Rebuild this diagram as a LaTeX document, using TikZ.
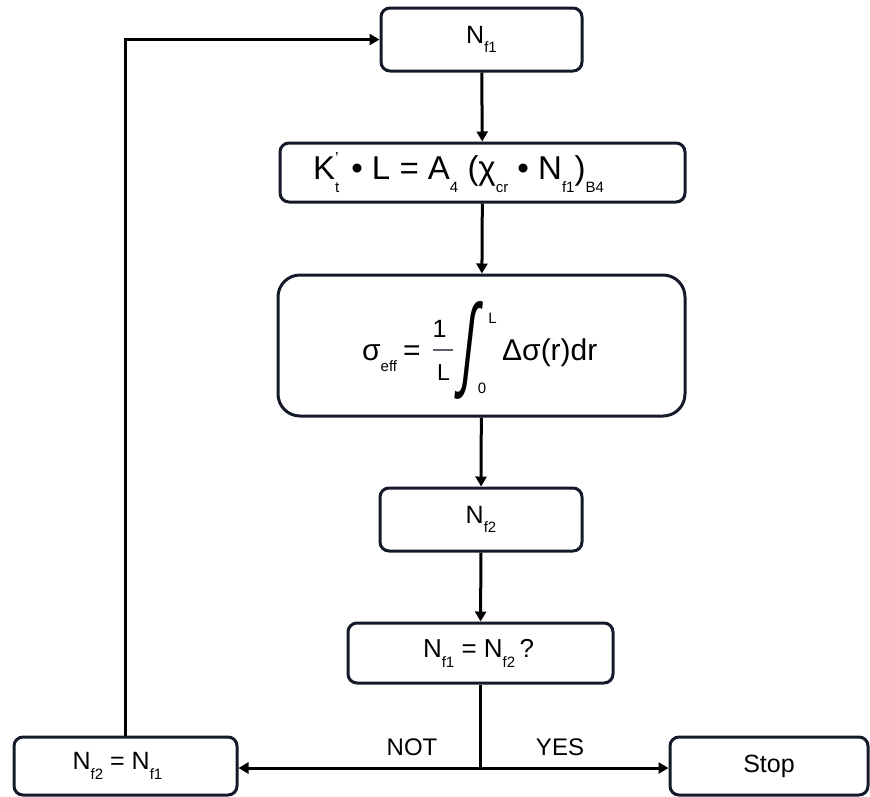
\documentclass[tikz,border=0pt]{standalone}
\usepackage{fontspec}
\usepackage{graphicx}
\setmainfont{Liberation Sans}
\newfontfamily\intfont[FakeSlant=0.25]{Liberation Sans}
\usetikzlibrary{arrows.meta}
\definecolor{boxline}{HTML}{141A2A}
\newcommand{\sbs}[1]{\raisebox{-0.38em}{\fontsize{15}{15}\selectfont #1}}
\begin{document}
\begin{tikzpicture}[x=1pt,y=-1pt,
  box/.style={draw=boxline,line width=3pt,rounded corners=9pt,fill=white,inner sep=0pt,
    font=\fontsize{25}{30}\selectfont},
  conn/.style={line width=3pt,draw=black},
  arr/.style={conn,-{Triangle[length=10pt,width=11pt]}},
  lbl/.style={font=\fontsize{24}{28}\selectfont,inner sep=0pt},
  txt/.style={inner sep=0pt,font=\fontsize{30}{36}\selectfont}]
\useasboundingbox (0,0) rectangle (870,796);
\node[box,minimum width=201pt,minimum height=63pt] (nf1) at (481.5,39.5) {N\sbs{f1}};
\node[box,minimum width=405pt,minimum height=59pt,font=\fontsize{33}{38}\selectfont] (k) at (482.5,172.5)
  {K\rlap{\raisebox{0.5em}{\fontsize{16}{16}\selectfont '}}\sbs{t}\kern12pt\textbullet\ L\ =\ A\sbs{4} (χ\sbs{cr} \textbullet\ N\sbs{f1})\sbs{B4}\kern48pt};
\node[box,rounded corners=22pt,minimum width=407pt,minimum height=141pt] (sig) at (481.5,345.5) {};
\node[txt,anchor=base west] (sigl) at (362,360) {σ\sbs{eff}\kern6pt=};
\node[txt,anchor=base,font=\fontsize{25}{30}\selectfont] (one) at (439.5,337) {1};
\draw[line width=1.8pt,draw=boxline!70] (433,350) -- (453,350);
\node[txt,anchor=base,font=\fontsize{23}{28}\selectfont] (den) at (443.5,380) {L};
\node[txt] (intg) at (466,350) {\resizebox{13pt}{76pt}{\intfont ∫}};
\node[txt,font=\fontsize{15}{15}\selectfont] (iu) at (492.5,318) {L};
\node[txt,font=\fontsize{15}{15}\selectfont] (il) at (482,388) {0};
\node[txt,anchor=base west] (dsig) at (502,360) {Δσ(r)dr};
\node[box,minimum width=202pt,minimum height=63pt] (nf2) at (481,519.5) {N\sbs{f2}};
\node[box,minimum width=265pt,minimum height=60pt,font=\fontsize{26}{32}\selectfont] (q) at (480.5,653) {N\sbs{f1} = N\sbs{f2}\,?\kern4pt};
\node[box,minimum width=223pt,minimum height=58pt] (set) at (125.5,766) {N\sbs{f2} = N\sbs{f1}\kern16pt};
\node[box,minimum width=198pt,minimum height=58pt] (stop) at (769,766) {\raisebox{-2pt}{Stop}};
\coordinate (j) at (q.south |- 0,768);
\draw[arr] (nf1) -- (k);
\draw[arr] (k) -- (sig);
\draw[arr] (sig) -- (nf2);
\draw[arr] (nf2) -- (q);
\draw[conn] (q) -- (j);
\draw[arr] (j) -- (set.east |- j);
\draw[arr] (j) -- (stop.west |- j);
\draw[arr] (set.north) |- (nf1.west);
\node[lbl] (not) at (412,747) {NOT};
\node[lbl] (yes) at (560,747) {YES};
\end{tikzpicture}
\end{document}
